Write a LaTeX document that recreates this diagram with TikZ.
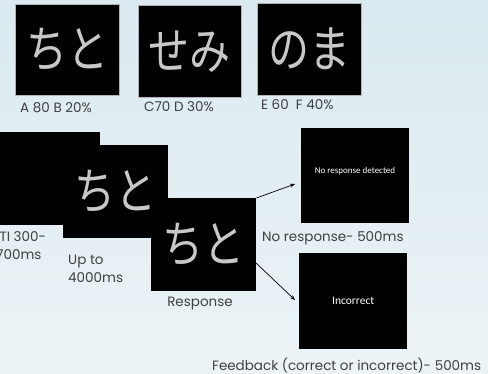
\documentclass[tikz,border=0pt]{standalone}
\usepackage{fontspec}
\setmainfont{Poppins}
\newfontfamily\jpfont[FakeStretch=0.82]{Noto Sans CJK JP}
\newfontfamily\calfont{Carlito}
\usetikzlibrary{arrows.meta}
\definecolor{bgtop}{RGB}{218,234,240}
\definecolor{bgbot}{RGB}{236,243,246}
\definecolor{txt}{RGB}{64,64,64}
\definecolor{kana}{RGB}{200,200,200}
\begin{document}
\begin{tikzpicture}[x=1pt,y=-1pt,
  scr/.style={fill=black, inner sep=0pt, anchor=north west},
  topscr/.style={scr, draw=gray!60, line width=0.6pt},
  kanatext/.style={text=kana, font=\jpfont\fontsize{50}{50}\selectfont},
  lab/.style={text=txt, font=\fontsize{13.5}{18}\selectfont, inner sep=0pt},
  arr/.style={-{Stealth[length=5pt,width=4pt]}, line width=0.7pt, black}]
\useasboundingbox (0,0) rectangle (488,374);
\shade[top color=bgtop, bottom color=bgbot] (0,0) rectangle (488,374);
\clip (0,0) rectangle (488,374);
% top row
\node[topscr, minimum width=104pt, minimum height=91pt, kanatext] (t1) at (15,4) {ちと};
\node[topscr, minimum width=103pt, minimum height=92pt, kanatext] (t2) at (138,5) {せみ};
\node[topscr, minimum width=104pt, minimum height=92pt, kanatext] (t3) at (257,3) {のま};
\node[lab, anchor=west] (l1) at (20,108) {A 80 B 20\%};
\node[lab, anchor=west] (l2) at (144,107) {C70 D 30\%};
\node[lab, anchor=west] (l3) at (261,105) {E 60\ \ F 40\%};
% middle sequence
\node[scr, minimum width=100pt, minimum height=93pt] (m1) at (0,132) {};
\node[scr, minimum width=105pt, minimum height=93pt, kanatext] (m2) at (63,145) {ちと};
\node[scr, minimum width=105pt, minimum height=93pt, kanatext] (m3) at (151,198) {ちと};
\node[lab, anchor=north west, align=left] (iti) at (-4,231) {ITI 300-\\700ms};
\node[lab, anchor=north west, align=left] (upto) at (68,255) {Up to\\4000ms};
\node[lab] (resp) at (200,304) {Response};
% feedback
\node[scr, minimum width=108pt, minimum height=95pt] (f1) at (301,128) {};
\node[text=white, font=\calfont\fontsize{9}{11}\selectfont] (f1t) at (355,171) {No response detected};
\node[lab, anchor=west] (nr) at (262,238) {No response- 500ms};
\node[scr, minimum width=108pt, minimum height=96pt] (f2) at (299,253) {};
\node[text=white, font=\calfont\fontsize{11.5}{13}\selectfont] (f2t) at (f2.center) {Incorrect};
\node[lab, anchor=west] (fb) at (212,365) {Feedback (correct or incorrect)- 500ms};
\coordinate (a1e) at (295,184);
\coordinate (a2s) at (256,263);
\coordinate (a2e) at (295,300);
\draw[arr] (m3.north east) -- (a1e);
\draw[arr] (a2s) -- (a2e);
\end{tikzpicture}
\end{document}
